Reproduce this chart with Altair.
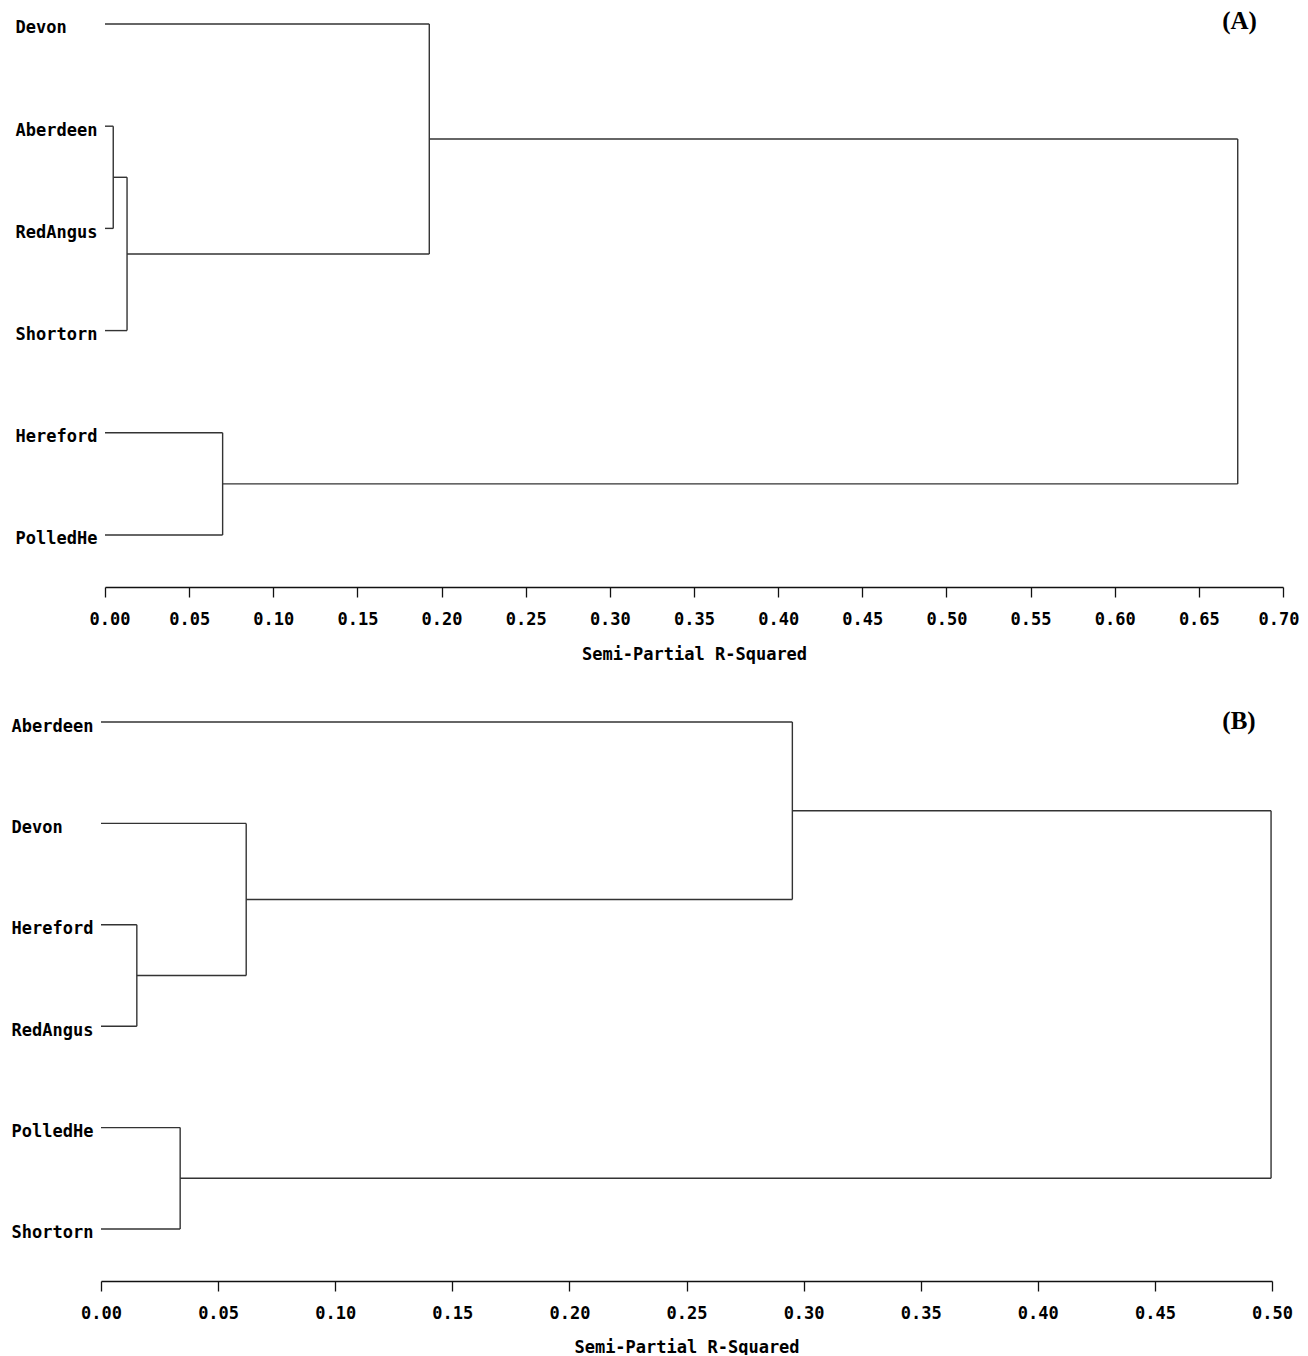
import json
import altair as alt
import pandas as pd

# ---------------- data ----------------
# Panel A
A_LEAVES = ["Devon", "Aberdeen", "RedAngus", "Shortorn", "Hereford", "PolledHe"]
A_MERGE_LEFT = [1, 6, 4, 0, 9]      # child ids (leaves 0..5, merged clusters 6..)
A_MERGE_RIGHT = [2, 3, 5, 7, 8]
A_HEIGHTS = [0.0049, 0.0131, 0.0699, 0.1927, 0.6731]
A_TICKS = [0.00, 0.05, 0.10, 0.15, 0.20, 0.25, 0.30, 0.35, 0.40, 0.45, 0.50, 0.55, 0.60, 0.65, 0.70]

# Panel B
B_LEAVES = ["Aberdeen", "Devon", "Hereford", "RedAngus", "PolledHe", "Shortorn"]
B_MERGE_LEFT = [2, 4, 1, 0, 9]
B_MERGE_RIGHT = [3, 5, 6, 8, 7]
B_HEIGHTS = [0.0153, 0.0338, 0.0620, 0.2952, 0.4996]
B_TICKS = [0.00, 0.05, 0.10, 0.15, 0.20, 0.25, 0.30, 0.35, 0.40, 0.45, 0.50]

X_TITLE = "Semi-Partial R-Squared"

MONO = "DejaVu Sans Mono"
FS = 17


def segments(leaves, left, right, heights):
    n = len(leaves)
    ypos = {i: float(i) for i in range(n)}
    hpos = {i: 0.0 for i in range(n)}
    rows = []
    for k, (a, b, h) in enumerate(zip(left, right, heights)):
        for c in (a, b):
            rows.append({"x": hpos[c], "x2": h, "y": ypos[c], "y2": ypos[c]})
        rows.append({"x": h, "x2": h, "y": ypos[a], "y2": ypos[b]})
        nid = n + k
        ypos[nid] = (ypos[a] + ypos[b]) / 2.0
        hpos[nid] = h
    return pd.DataFrame(rows)


def panel(leaves, left, right, heights, ticks, xmax, width, xrange, ydom,
          lab_pad, flush, title_pad, tag, tag_x, tag_y):
    df = segments(leaves, left, right, heights)
    label_expr = json.dumps(leaves) + "[datum.value]"
    ax_kw = dict(
        values=ticks, format=".2f", title=X_TITLE, grid=False,
        labelFont=MONO, labelFontSize=FS, labelFontWeight="bold", labelColor="#000",
        labelOverlap=False, labelPadding=14,
        titleFont=MONO, titleFontSize=FS, titleFontWeight="bold", titleColor="#000",
        titlePadding=title_pad,
        domainColor="#111", domainWidth=1.3, tickColor="#111", tickWidth=1.3, tickSize=10,
    )
    if flush:
        ax_kw.update(labelFlush=True, labelFlushOffset=16)
    else:
        ax_kw.update(labelFlush=False)
    x_axis = alt.Axis(**ax_kw)
    y_axis = alt.Axis(
        values=list(range(len(leaves))), labelExpr=label_expr, title=None,
        grid=False, ticks=False, domain=False,
        labelAlign="left", labelPadding=lab_pad, labelBaseline="middle", labelOffset=4,
        labelFont=MONO, labelFontSize=FS, labelFontWeight="bold", labelColor="#000",
        minExtent=97, maxExtent=97,
    )
    lines = alt.Chart(df).mark_rule(color="#333333", strokeWidth=1.4).encode(
        x=alt.X("x:Q", axis=x_axis,
                scale=alt.Scale(domain=[0, xmax], range=xrange, nice=False, zero=False)),
        x2="x2:Q",
        y=alt.Y("y:Q", axis=y_axis,
                scale=alt.Scale(domain=ydom, reverse=True, nice=False, zero=False)),
        y2="y2:Q",
    )
    label = alt.Chart(pd.DataFrame({"t": [tag]})).mark_text(
        font="Liberation Serif", fontWeight="bold", fontSize=25,
        align="center", baseline="alphabetic", color="#000",
    ).encode(text="t:N", x=alt.value(tag_x), y=alt.value(tag_y))
    return alt.layer(lines, label).properties(width=width, height=574)


chart_a = panel(A_LEAVES, A_MERGE_LEFT, A_MERGE_RIGHT, A_HEIGHTS, A_TICKS, 0.70, 1178,
                [0, 1178], [-0.1076, 5.509], 90, True, 19, "(A)", 1134.5, 16)
chart_b = panel(B_LEAVES, B_MERGE_LEFT, B_MERGE_RIGHT, B_HEIGHTS, B_TICKS, 0.50, 1167,
                [-4, 1167], [-0.148, 5.513], 94, False, 18, "(B)", 1134, 21.5)

chart = alt.vconcat(chart_a, chart_b, spacing=45).properties(
    padding={"left": 0, "top": 1, "right": 0, "bottom": 0}
).configure_view(strokeWidth=0)

chart.save("out.html", embed_options={"renderer": "svg", "actions": False})
